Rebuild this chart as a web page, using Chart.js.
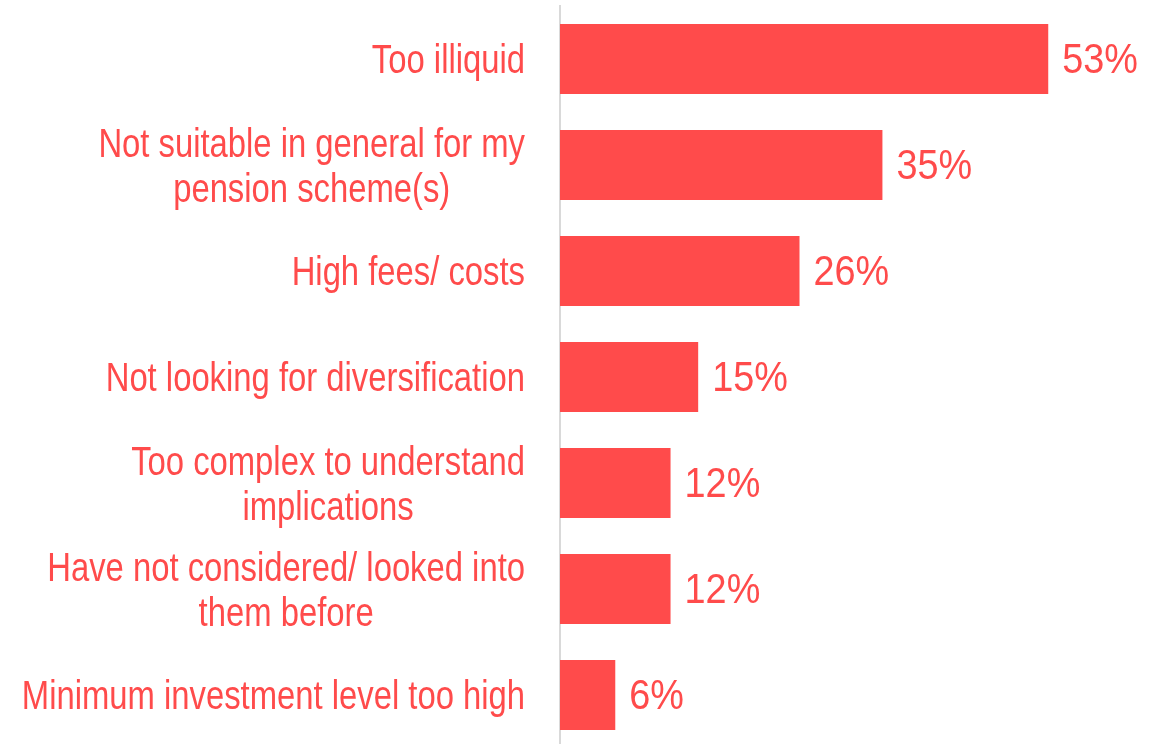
<!DOCTYPE html>
<html>
<head>
<meta charset="utf-8">
<script src="https://cdn.jsdelivr.net/npm/chart.js@4.4.1/dist/chart.umd.min.js"></script>
<style>
  html, body { margin: 0; padding: 0; background: #fff; overflow: hidden; }
  #wrap { position: relative; width: 1171px; height: 750px; }
</style>
</head>
<body>
<div id="wrap"><canvas id="c"></canvas></div>
<script>
// Reasons given, one entry per bar (multi-line entries are arrays of lines)
const categories = [
  ['Too illiquid'],
  ['Not suitable in general for my', 'pension scheme(s)'],
  ['High fees/ costs'],
  ['Not looking for diversification'],
  ['Too complex to understand', 'implications'],
  ['Have not considered/ looked into', 'them before'],
  ['Minimum investment level too high']
];
const shares = [53, 35, 26, 15, 12, 12, 6];
const valueLabels = ['53%', '35%', '26%', '15%', '12%', '12%', '6%'];

const RED = '#FF4B4B';
const FONT = "'Liberation Sans', Arial, sans-serif";
// horizontal squeeze giving a condensed look to the regular sans face
const CAT_SX = 0.82;
const VAL_SX = 0.88;

// Category labels: block right-aligned next to the axis, lines centred within the block
const categoryLabelPlugin = {
  id: 'categoryLabels',
  afterDraw(chart) {
    const ctx = chart.ctx;
    const y = chart.scales.y;
    const right = chart.chartArea.left - 35;
    const lineH = 45;
    ctx.save();
    ctx.font = '40px ' + FONT;
    ctx.fillStyle = RED;
    ctx.textAlign = 'center';
    ctx.textBaseline = 'alphabetic';
    categories.forEach((lines, i) => {
      const cy = y.getPixelForValue(i);
      const w = Math.max(...lines.map(l => ctx.measureText(l).width)) * CAT_SX;
      const cx = right - w / 2;
      const first = cy - (lines.length - 1) * lineH / 2;
      lines.forEach((l, k) => {
        ctx.save();
        ctx.scale(CAT_SX, 1);
        ctx.fillText(l, cx / CAT_SX, first + k * lineH + 14);
        ctx.restore();
      });
    });
    ctx.restore();
  }
};

// Value labels to the right of each bar
const valueLabelPlugin = {
  id: 'valueLabels',
  afterDatasetsDraw(chart) {
    const ctx = chart.ctx;
    const meta = chart.getDatasetMeta(0);
    ctx.save();
    ctx.font = '43px ' + FONT;
    ctx.fillStyle = RED;
    ctx.textAlign = 'left';
    ctx.textBaseline = 'alphabetic';
    meta.data.forEach((bar, i) => {
      ctx.save();
      ctx.scale(VAL_SX, 1);
      ctx.fillText(valueLabels[i], (bar.x + 14) / VAL_SX, bar.y + 14);
      ctx.restore();
    });
    ctx.restore();
  }
};

new Chart(document.getElementById('c'), {
  type: 'bar',
  data: {
    labels: categories,
    datasets: [{
      data: shares,
      backgroundColor: RED,
      borderWidth: 0,
      categoryPercentage: 1,
      barPercentage: 0.66
    }]
  },
  options: {
    indexAxis: 'y',
    responsive: true,
    maintainAspectRatio: false,
    animation: false,
    layout: { padding: { top: 6, bottom: 2, left: 0, right: 3 } },
    plugins: { legend: { display: false }, tooltip: { enabled: false } },
    scales: {
      x: {
        min: 0,
        max: 66,
        display: false
      },
      y: {
        ticks: { display: false },
        grid: { display: false },
        border: { display: true, color: '#D9D9D9', width: 2 },
        afterFit(scale) { scale.width = 560; }
      }
    }
  },
  plugins: [categoryLabelPlugin, valueLabelPlugin]
});
</script>
</body>
</html>
